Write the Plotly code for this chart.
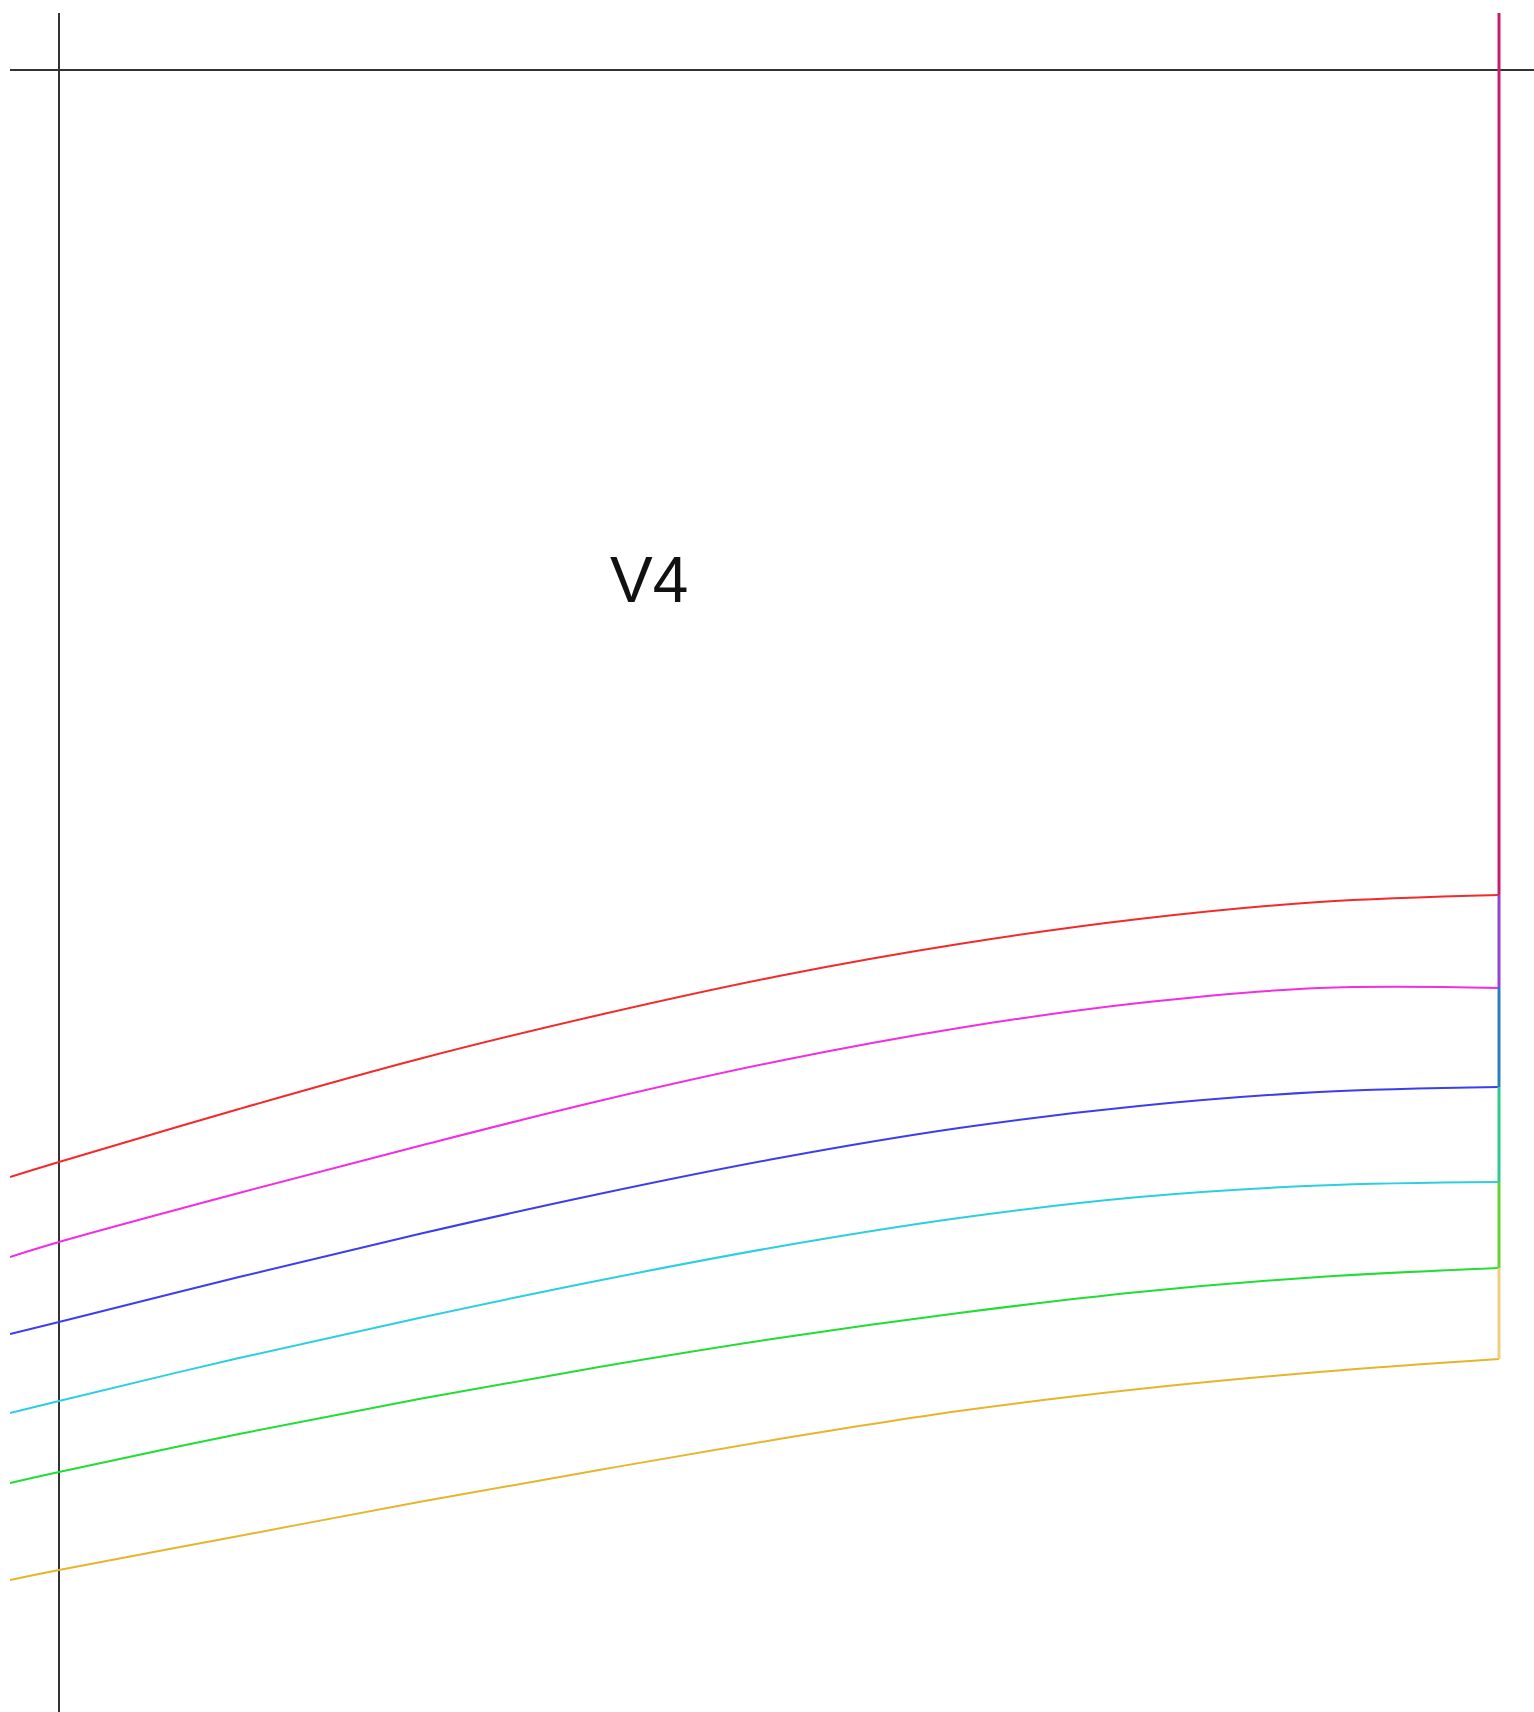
import plotly.graph_objects as go

# x positions (fraction of the span from the vertical axis to the right edge line)
x_pts = [-0.034, 0.0, 0.125, 0.25, 0.375, 0.5, 0.625, 0.75, 0.875, 1.0]

red     = [-1.107, -1.092, -1.039, -0.989, -0.945, -0.906, -0.874, -0.849, -0.832, -0.825]
magenta = [-1.187, -1.172, -1.123, -1.076, -1.031, -0.991, -0.958, -0.933, -0.918, -0.918]
blue    = [-1.264, -1.252, -1.207, -1.164, -1.124, -1.088, -1.058, -1.036, -1.022, -1.017]
cyan    = [-1.343, -1.331, -1.288, -1.248, -1.2105, -1.1765, -1.148, -1.127, -1.1155, -1.112]
green   = [-1.413, -1.402, -1.364, -1.329, -1.297, -1.268, -1.243, -1.222, -1.207, -1.198]
yellow  = [-1.510, -1.500, -1.466, -1.432, -1.400, -1.369, -1.341, -1.319, -1.302, -1.289]

curve_names = ["red", "magenta", "blue", "cyan", "green", "yellow"]
curve_values = [red, magenta, blue, cyan, green, yellow]
curve_colors = ["#f42a2a", "#f22ee0", "#3d3df0", "#2ccfdf", "#22dd33", "#e6b52c"]

# vertical edge segments at x = 1 (top value, bottom value)
edge_x = 1.0
edge_tops = [0.2, -0.825, -0.918, -1.017, -1.112, -1.198]
edge_bottoms = [-0.825, -0.918, -1.017, -1.112, -1.198, -1.289]
edge_colors = ["#c81f66", "#8f45d8", "#2c7fbf", "#33c98c", "#62d334", "#f0cf7c"]

label_text = "V4"
label_x = 0.4097
label_y = -0.510

fig = go.Figure()
for name, vals, col in zip(curve_names, curve_values, curve_colors):
    fig.add_trace(go.Scatter(x=x_pts, y=vals, mode="lines", name=name,
                             line=dict(color=col, width=2, shape="spline", smoothing=1.0),
                             hoverinfo="skip", showlegend=False))
for t, b, col in zip(edge_tops, edge_bottoms, edge_colors):
    fig.add_trace(go.Scatter(x=[edge_x, edge_x], y=[t, b], mode="lines",
                             line=dict(color=col, width=3),
                             hoverinfo="skip", showlegend=False))

W, H = 1534, 1712
L, T = 10, 13
# pixel geometry: x=0 at px 59, x=1 at px 1499; y=0 at px 70, 1000 px per unit
x0 = (L - 59) / 1440
x1 = (W - 59) / 1440
y_top = -(T - 70) / 1000
y_bot = -(H - 70) / 1000

fig.add_annotation(x=label_x, y=label_y, text=label_text, showarrow=False,
                   font=dict(family="Liberation Sans, Arial, sans-serif", size=64, color="#111"))

fig.update_layout(
    width=W, height=H,
    margin=dict(l=L, r=0, t=T, b=0, pad=0),
    paper_bgcolor="white", plot_bgcolor="white",
    xaxis=dict(range=[x0, x1], showgrid=False, showticklabels=False, ticks="",
               zeroline=True, zerolinecolor="#333333", zerolinewidth=2, showline=False),
    yaxis=dict(range=[y_bot, y_top], showgrid=False, showticklabels=False, ticks="",
               zeroline=True, zerolinecolor="#333333", zerolinewidth=2, showline=False),
    showlegend=False,
)

fig.write_html("out.html", config={"displayModeBar": False},
               post_script="document.body.style.margin='0';document.body.style.overflow='hidden';")
